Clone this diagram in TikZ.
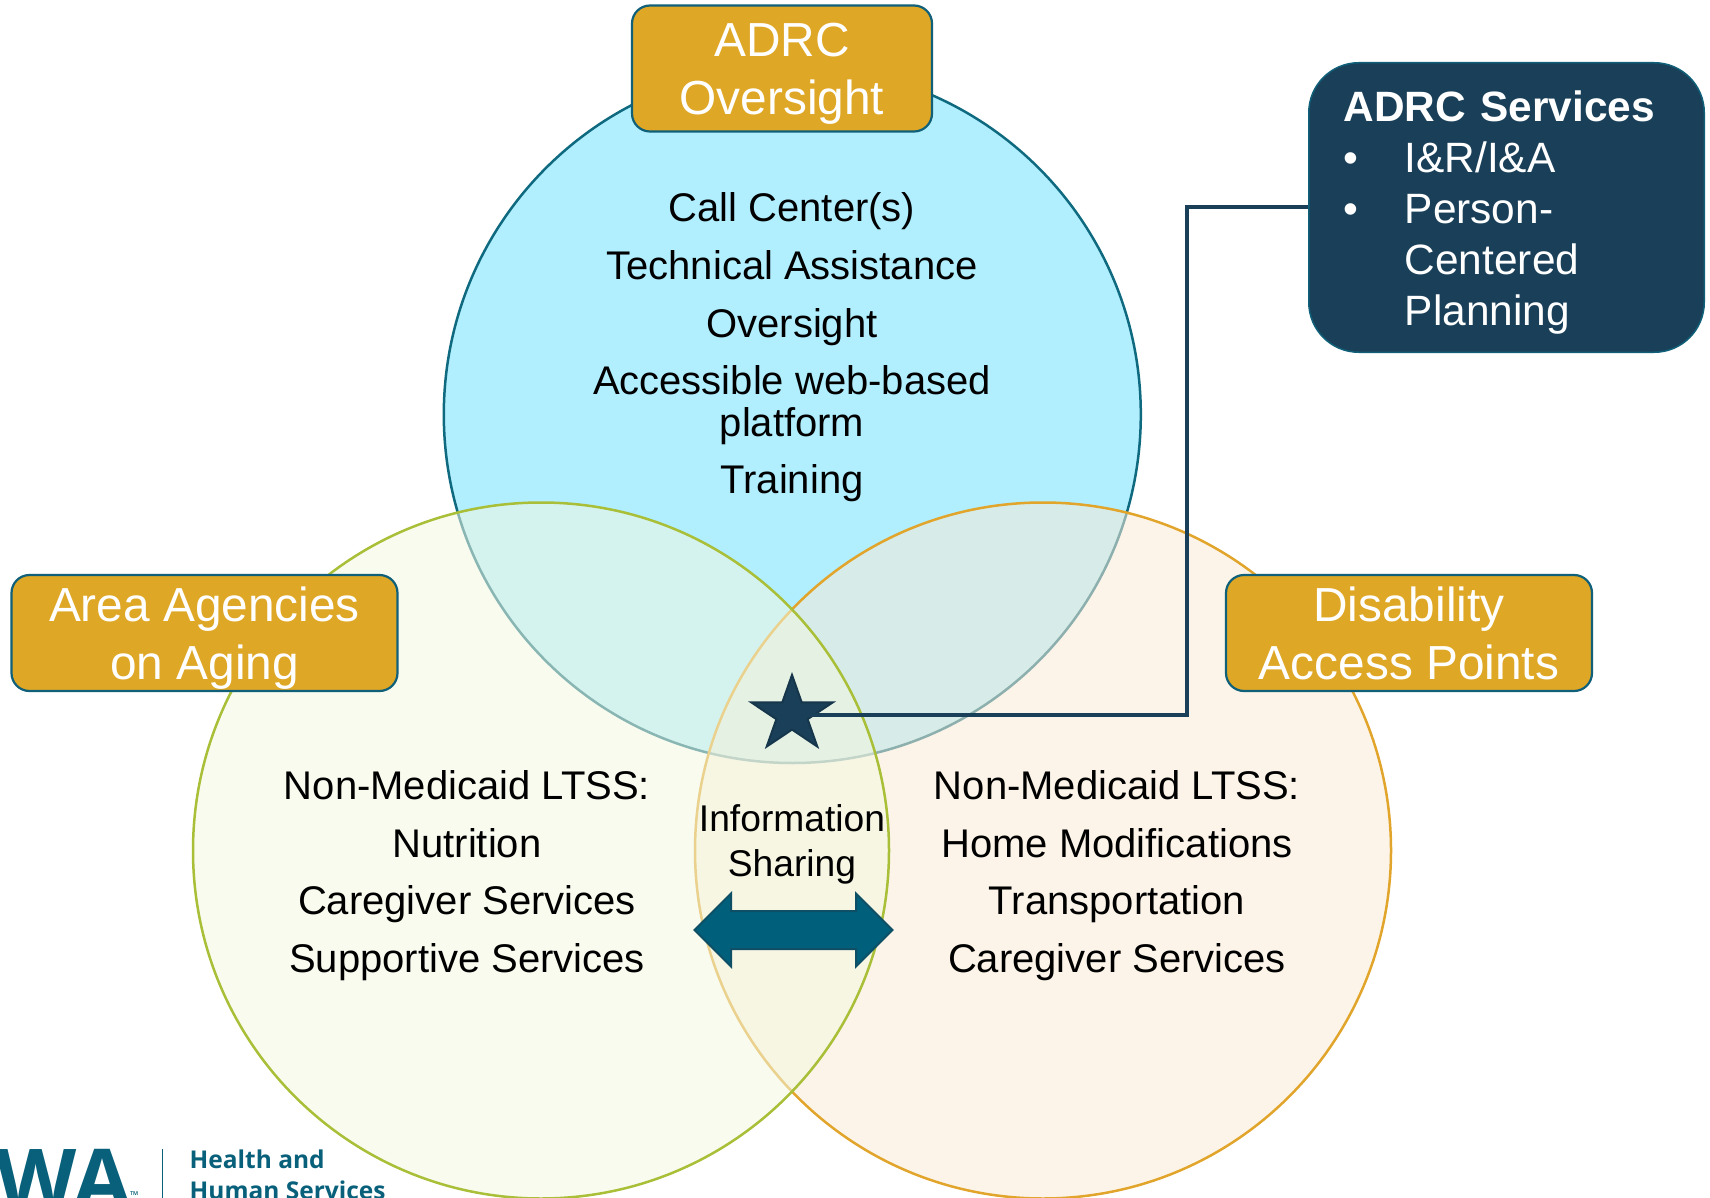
\documentclass[tikz,border=0pt]{standalone}
\usepackage{fontspec}
\setmainfont{Liberation Sans}
\newfontfamily\logofont{Open Sans}
\usetikzlibrary{shapes.geometric,shapes.arrows}
\definecolor{teal}{HTML}{0F6078}
\definecolor{navy}{HTML}{1A4059}
\definecolor{gold}{HTML}{DFA726}
\definecolor{skyfill}{HTML}{B1EFFF}
\definecolor{skyline}{HTML}{0F6A80}
\definecolor{greenfill}{RGB}{242,247,224}
\definecolor{greenline}{HTML}{A9BF38}
\definecolor{orangefill}{RGB}{249,235,213}
\definecolor{orangeline}{HTML}{E2A52C}
\definecolor{arrowfill}{HTML}{005F7A}
\definecolor{arrowline}{HTML}{0E4F66}
\definecolor{logoteal}{HTML}{08607A}
\newcommand{\twolines}[2]{\rule{0pt}{45pt}#1\\#2\rule[-10.5pt]{0pt}{1pt}}
\tikzset{
  header/.style={draw=teal,line width=2.2pt,fill=gold,rounded corners=18pt,inner sep=0pt,
    text=white,align=center,font=\fontsize{47.8}{57.6}\selectfont},
  body/.style={align=center,text=black,inner sep=0pt,font=\fontsize{40}{57.6}\selectfont},
  venn/.style={line width=2.5pt},
  logotext/.style={anchor=base west,inner sep=0pt,text=logoteal,font=\logofont\bfseries\fontsize{24.5}{24.5}\selectfont},
}
\begin{document}
\begin{tikzpicture}[x=1pt,y=-1pt]
\useasboundingbox (0,0) rectangle (1710,1198);
\clip (0,0) rectangle (1710,1198);
% circles
\path[venn,draw=skyline,fill=skyfill] (792.3,414.5) circle (348.5pt);
\path[venn,draw=orangeline,fill=orangefill,fill opacity=.54] (1043,850.5) circle (348pt);
\path[venn,draw=greenline,fill=greenfill,fill opacity=.54] (541,850.5) circle (348pt);
% headers
\node[header,minimum width=300pt,minimum height=126pt] (oversight) at (782,68.5) {\twolines{ADRC}{Oversight}};
\node[header,minimum width=386pt,minimum height=116pt] (aging) at (204.5,633) {\twolines{Area Agencies}{on Aging}};
\node[header,minimum width=366pt,minimum height=116pt] (access) at (1409,633) {\twolines{Disability}{Access Points}};
% body text
\node[body] (adrcbody) at (792,347.5) {Call Center(s)\\Technical Assistance\\Oversight\\[0pt]Accessible web-based\\[-16.2pt]platform\\Training};
\node[body] (aaabody) at (467,875.5) {Non-Medicaid LTSS:\\Nutrition\\Caregiver Services\\Supportive Services};
\node[body] (dapbody) at (1117,875.5) {Non-Medicaid LTSS:\\Home Modifications\\Transportation\\Caregiver Services};
\node[body,font=\fontsize{37.2}{45}\selectfont] (info) at (792,844) {Information\\Sharing};
% double arrow
\node[double arrow,draw=arrowline,line width=2pt,fill=arrowfill,minimum height=198pt,
  double arrow head extend=17.5pt,double arrow tip angle=90,inner xsep=0pt,inner ysep=18pt] (share) at (793.5,930) {};
% services box
\node[draw=teal,line width=1.5pt,fill=navy,rounded corners=50pt,text=white,minimum width=395.5pt,minimum height=289.5pt,
  inner sep=0pt,text width=325.5pt,align=left,font=\fontsize{42.4}{51}\selectfont] (services) at (1506.5,207.5)
  {\rule{0pt}{40pt}\textbf{ADRC Services}\\\makebox[61pt][l]{•}I\&R/I\&A\\\makebox[61pt][l]{•}Person-\\\hspace*{61pt}Centered\\\hspace*{61pt}Planning};
% star and connector
\node[star,star points=5,star point ratio=2.618,draw=navy!85!black,line width=2pt,fill=navy,inner sep=0pt,minimum size=86pt,yscale=.92,transform shape] (mark) at (792,714.5) {};
\coordinate (bendA) at (1187,207.5);
\draw[navy,line width=4pt] (services.west) -- (bendA) -- (bendA |- mark.center) -- (mark.center);
% logo
\node[anchor=base east,inner sep=0pt,text=logoteal,font=\logofont\bfseries\fontsize{84}{84}\selectfont] (wa) at (132,1209) {WA};
\node[anchor=base west,inner sep=0pt,text=logoteal,font=\logofont\fontsize{11}{11}\selectfont] (tm) at (130,1199) {™};
\coordinate (ruleTop) at (162.7,1149);
\coordinate (ruleEnd) at (162.7,1198);
\draw[logoteal,line width=1.2pt] (ruleTop) -- (ruleEnd);
\node[logotext] (hhs1) at (189.5,1168) {Health and};
\node[logotext] (hhs2) at (189.5,1199) {Human Services};
\end{tikzpicture}
\end{document}
